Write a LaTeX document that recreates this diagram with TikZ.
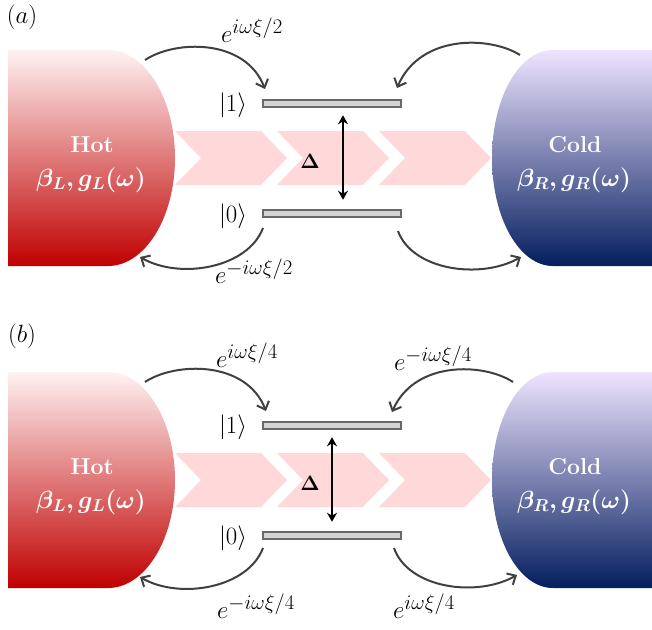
\documentclass[tikz,border=0pt]{standalone}
\usepackage{bm}
\usetikzlibrary{arrows.meta}
\definecolor{hotTop}{RGB}{255,242,242}
\definecolor{hotBot}{RGB}{192,0,0}
\definecolor{coldTop}{RGB}{238,228,255}
\definecolor{coldBot}{RGB}{5,30,95}
\definecolor{chev}{RGB}{255,217,217}
\definecolor{arr}{RGB}{64,64,64}
\definecolor{barfill}{RGB}{212,212,212}
\definecolor{barline}{RGB}{105,105,105}
\tikzset{
 levelbar/.style={draw=barline, fill=barfill, line width=2pt, minimum width=138pt, minimum height=7.5pt, inner sep=0pt},
 chevron/.style={fill=chev, draw=none},
 trans/.style={draw=arr, line width=2pt, -{Straight Barb[length=7pt,width=13pt]}},
 dblarrow/.style={draw=black, line width=2.4pt, {Stealth[length=9pt,width=10pt]}-{Stealth[length=9pt,width=10pt]}},
 bathtext/.style={text=white, inner sep=0pt, font=\fontsize{23}{26}\selectfont\bfseries},
 bathmath/.style={text=white, inner sep=0pt, font=\fontsize{25}{28}\selectfont},
 lbl/.style={inner sep=0pt, font=\fontsize{28}{32}\selectfont},
 ketlbl/.style={inner sep=0pt, font=\fontsize{25}{28}\selectfont},
 panellbl/.style={inner sep=0pt, font=\fontsize{28}{32}\selectfont},
 deltalbl/.style={inner sep=0pt, font=\fontsize{22}{26}\selectfont},
}
\begin{document}
\begin{tikzpicture}[x=1pt,y=-1pt]
\useasboundingbox (0,0) rectangle (652,629);
% ================= panel (a) =================
\foreach \x in {175,277,379}{
 \fill[chevron] (\x,131) -- (\x+86,131) -- (\x+112,158) -- (\x+86,185) -- (\x,185) -- (\x+26,158) -- cycle;
}
\shade[top color=hotTop, bottom color=hotBot] (8,50) -- (108,50) .. controls (145,50) and (175,98.4) .. (175,158) .. controls (175,217.6) and (145,266) .. (108,266) -- (8,266) -- cycle;
\shade[top color=coldTop, bottom color=coldBot] (652,50) -- (553,50) .. controls (519,50) and (492,98.4) .. (492,158) .. controls (492,217.6) and (519,266) .. (553,266) -- (652,266) -- cycle;
\node[panellbl] (pa) at (22,17) {$(a)$};
\node[bathtext] (hotAt) at (92,145) {Hot};
\node[bathmath] (hotAm) at (91,180) {$\bm{\beta_L, g_L(\omega)}$};
\node[bathtext] (coldAt) at (575,145) {Cold};
\node[bathmath] (coldAm) at (574,180) {$\bm{\beta_R, g_R(\omega)}$};
\node[levelbar] (l1a) at (331.5,103.5) {};
\node[levelbar] (l0a) at (331.5,213.5) {};
\node[ketlbl] (k1a) at (233,105) {$|1\rangle$};
\node[ketlbl] (k0a) at (233,216) {$|0\rangle$};
\node[deltalbl] (dla) at (310,161) {$\bm{\Delta}$};
\draw[dblarrow] ([xshift=11.5pt,yshift=-7pt]l1a.south) -- ([xshift=11.5pt,yshift=9pt]l0a.north);
\coordinate (hA1) at (145,60);   \coordinate (tA1) at (265,89);
\coordinate (cA1) at (520,55);   \coordinate (tA2) at (397,88);
\coordinate (fA1) at (263,228);  \coordinate (hA2) at (140,257);
\coordinate (fA2) at (398,231);  \coordinate (cA2) at (521,257);
\draw[trans] (hA1) .. controls (175,40) and (245,38) .. (tA1);
\draw[trans] (cA1) .. controls (490,36) and (420,34) .. (tA2);
\draw[trans] (fA1) .. controls (248,268) and (180,280) .. (hA2);
\draw[trans] (fA2) .. controls (412,270) and (480,280) .. (cA2);
\node[lbl] (eA1) at (252,30) {$e^{i\omega\xi/2}$};
\node[lbl] (eA2) at (254,271) {$e^{-i\omega\xi/2}$};
% ================= panel (b) =================
\foreach \x in {175,277,379}{
 \fill[chevron] (\x,453) -- (\x+86,453) -- (\x+112,480) -- (\x+86,507) -- (\x,507) -- (\x+26,480) -- cycle;
}
\shade[top color=hotTop, bottom color=hotBot] (8,372) -- (108,372) .. controls (145,372) and (175,420.4) .. (175,480) .. controls (175,539.6) and (145,588) .. (108,588) -- (8,588) -- cycle;
\shade[top color=coldTop, bottom color=coldBot] (652,372) -- (553,372) .. controls (519,372) and (492,420.4) .. (492,480) .. controls (492,539.6) and (519,588) .. (553,588) -- (652,588) -- cycle;
\node[panellbl] (pb) at (22,336) {$(b)$};
\node[bathtext] (hotBt) at (92,467) {Hot};
\node[bathmath] (hotBm) at (91,502) {$\bm{\beta_L, g_L(\omega)}$};
\node[bathtext] (coldBt) at (575,467) {Cold};
\node[bathmath] (coldBm) at (574,502) {$\bm{\beta_R, g_R(\omega)}$};
\node[levelbar] (l1b) at (331.5,425.5) {};
\node[levelbar] (l0b) at (331.5,535.5) {};
\node[ketlbl] (k1b) at (233,427) {$|1\rangle$};
\node[ketlbl] (k0b) at (233,538) {$|0\rangle$};
\node[deltalbl] (dlb) at (310,483) {$\bm{\Delta}$};
\draw[dblarrow] ([xshift=0.5pt,yshift=-7pt]l1b.south) -- ([xshift=0.5pt,yshift=9pt]l0b.north);
\coordinate (hB1) at (145,382);  \coordinate (tB1) at (266,411);
\coordinate (cB1) at (513,382);  \coordinate (tB2) at (392,412);
\coordinate (fB1) at (263,548);  \coordinate (hB2) at (140,577);
\coordinate (fB2) at (394,548);  \coordinate (cB2) at (517,575);
\draw[trans] (hB1) .. controls (175,362) and (246,360) .. (tB1);
\draw[trans] (cB1) .. controls (484,363) and (415,360) .. (tB2);
\draw[trans] (fB1) .. controls (248,588) and (180,600) .. (hB2);
\draw[trans] (fB2) .. controls (408,588) and (476,598) .. (cB2);
\node[lbl] (eB1) at (247,355) {$e^{i\omega\xi/4}$};
\node[lbl] (eB2) at (433,358) {$e^{-i\omega\xi/4}$};
\node[lbl] (eB3) at (256,606) {$e^{-i\omega\xi/4}$};
\node[lbl] (eB4) at (424,606) {$e^{i\omega\xi/4}$};
\end{tikzpicture}
\end{document}
